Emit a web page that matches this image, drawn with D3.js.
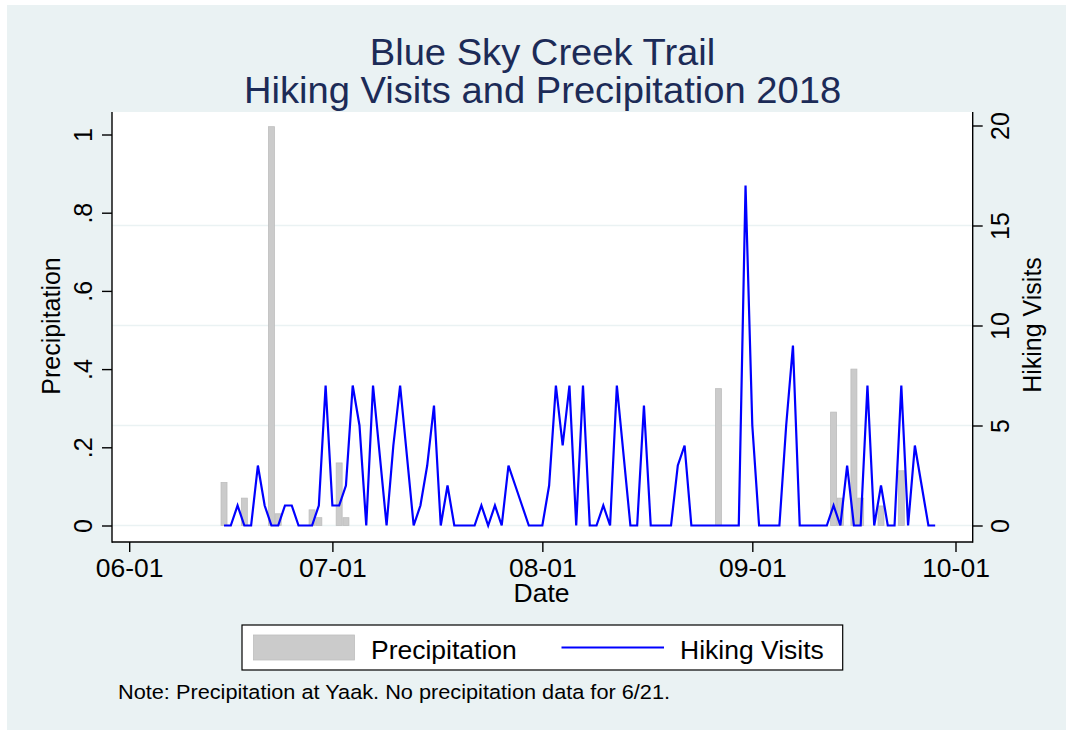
<!DOCTYPE html>
<meta charset="utf-8">
<style>
body { margin: 0; background: #fff; }
text { font-family: "Liberation Sans", Arial, sans-serif; fill: #000; }
.grid line { stroke: #eaf2f3; stroke-width: 1.6; }
.axis line { stroke: #000; stroke-width: 1.4; }
.axis path { display: none; }
</style>
<svg width="1071" height="732"></svg>
<script src="https://d3js.org/d3.v7.min.js"></script>
<script>

// daily hiking visits, 2018-06-15 .. 2018-09-28 (null = no count that day)
var firstDay = "2018-06-15", lastDay = "2018-09-28";
var visits = [
  0,0,1,0,0,3,1,0,0,1,1,0,0,0,1,7,                                   // Jun 15-30
  1,1,2,7,5,0,7,null,0,4,7,null,0,1,3,6,0,2,0,0,0,0,1,0,1,0,3,2,1,0,0, // Jul
  0,2,7,4,7,0,7,0,0,1,0,7,null,0,0,6,0,0,0,0,3,4,0,0,0,0,0,0,0,0,17,   // Aug
  5,0,0,0,0,5,9,0,0,0,0,0,1,0,3,0,0,7,0,2,0,0,7,0,4,2,0,0              // Sep 1-28
];

// precipitation at Yaak (days with rain only)
var precipDates = ["2018-06-15","2018-06-18","2018-06-22","2018-06-23","2018-06-28","2018-06-29",
                   "2018-07-02","2018-07-03","2018-08-27","2018-09-13","2018-09-14","2018-09-16",
                   "2018-09-17","2018-09-20","2018-09-23"];
var precip = [0.11,0.07,1.02,0.03,0.04,0.02,0.16,0.02,0.35,0.29,0.07,0.40,0.07,0.05,0.14];

var xTicks = ["2018-06-01","2018-07-01","2018-08-01","2018-09-01","2018-10-01"];
var precipTicks = [0, 0.2, 0.4, 0.6, 0.8, 1];
var precipTickLabels = ["0", ".2", ".4", ".6", ".8", "1"];
var visitTicks = [0, 5, 10, 15, 20];

var SX = 1.06; // the reference is slightly stretched sideways

var svg = d3.select("svg");
var parse = d3.utcParse("%Y-%m-%d");

var plot = {left: 112, right: 972.7, top: 112, bottom: 542};

var x = d3.scaleUtc()
    .domain([parse("2018-06-01"), parse("2018-10-01")])
    .range([129.2, 955.5]);
var yP = d3.scaleLinear().domain([0, 1]).range([525.5, 134.5]);
var yV = d3.scaleLinear().domain([0, 20]).range([525.5, 125.5]);
var dayW = x(parse("2018-06-02")) - x(parse("2018-06-01"));

// background
svg.append("rect").attr("x", 7).attr("y", 5).attr("width", 1059).attr("height", 725)
    .attr("fill", "#eaf2f3");
svg.append("rect").attr("x", plot.left).attr("y", plot.top)
    .attr("width", plot.right - plot.left).attr("height", plot.bottom - plot.top)
    .attr("fill", "#fff");

function stretched(sel, x0, y0, rot) {
  return sel.attr("transform", "translate(" + x0 + "," + y0 + ") scale(" + SX + ",1)" +
      (rot ? " rotate(" + rot + ")" : ""));
}

// gridlines from the right axis
svg.append("g").attr("class", "grid")
  .selectAll("line")
  .data(visitTicks.filter(function(d) { return d < 20; }))
  .enter().append("line")
    .attr("x1", plot.left).attr("x2", plot.right)
    .attr("y1", function(d) { return yV(d); })
    .attr("y2", function(d) { return yV(d); });

// precipitation bars
svg.append("g")
  .selectAll("rect")
  .data(precip)
  .enter().append("rect")
    .attr("x", function(d, i) { return x(parse(precipDates[i])) - dayW / 2 + 0.4; })
    .attr("width", dayW - 0.8)
    .attr("y", function(d) { return yP(d); })
    .attr("height", function(d) { return yP(0) - yP(d); })
    .attr("fill", "#cbcbcb")
    .attr("stroke", "#bdbdbd")
    .attr("stroke-width", 0.8);

// visits line (missing days are bridged)
var days = d3.utcDay.range(parse(firstDay), d3.utcDay.offset(parse(lastDay), 1));
var pts = days.map(function(d, i) { return {date: d, v: visits[i]}; })
    .filter(function(d) { return d.v != null; });

svg.append("path")
    .datum(pts)
    .attr("fill", "none")
    .attr("stroke", "#0000ff")
    .attr("stroke-width", 2.2)
    .attr("d", d3.line()
        .x(function(d) { return x(d.date); })
        .y(function(d) { return yV(d.v); }));

// axes
var gx = svg.append("g").attr("class", "axis")
    .attr("transform", "translate(0," + plot.bottom + ")")
    .call(d3.axisBottom(x)
        .tickValues(xTicks.map(parse))
        .tickFormat(d3.utcFormat("%m-%d"))
        .tickSize(10).tickSizeOuter(0));
gx.selectAll(".tick text")
    .attr("y", null).attr("dy", null)
    .style("font-size", "25px")
    .each(function() { stretched(d3.select(this), 0, 35); });

var gl = svg.append("g").attr("class", "axis")
    .attr("transform", "translate(" + plot.left + ",0)")
    .call(d3.axisLeft(yP)
        .tickValues(precipTicks)
        .tickFormat(function(d, i) { return precipTickLabels[i]; })
        .tickSize(10).tickSizeOuter(0));
gl.selectAll(".tick text")
    .attr("x", null).attr("dy", null)
    .attr("text-anchor", "middle")
    .style("font-size", "25px")
    .each(function() { stretched(d3.select(this), -20, 0, -90); });

var gr = svg.append("g").attr("class", "axis")
    .attr("transform", "translate(" + plot.right + ",0)")
    .call(d3.axisRight(yV)
        .tickValues(visitTicks)
        .tickSize(10).tickSizeOuter(0));
gr.selectAll(".tick text")
    .attr("x", null).attr("dy", null)
    .attr("text-anchor", "middle")
    .style("font-size", "25px")
    .each(function() { stretched(d3.select(this), 36, 0, -90); });

var frame = svg.append("g").attr("class", "axis");
frame.append("line").attr("x1", plot.left).attr("x2", plot.left)
    .attr("y1", plot.top).attr("y2", plot.bottom + 0.7);
frame.append("line").attr("x1", plot.right).attr("x2", plot.right)
    .attr("y1", plot.top).attr("y2", plot.bottom + 0.7);
frame.append("line").attr("x1", plot.left).attr("x2", plot.right)
    .attr("y1", plot.bottom).attr("y2", plot.bottom);

// axis titles
stretched(svg.append("text"), 541.5, 601.5)
    .attr("text-anchor", "middle").style("font-size", "25px").text("Date");
stretched(svg.append("text"), 60, 326, -90)
    .attr("text-anchor", "middle").style("font-size", "25px").text("Precipitation");
stretched(svg.append("text"), 1041, 325, -90)
    .attr("text-anchor", "middle").style("font-size", "25px").text("Hiking Visits");

// title
var titleLines = ["Blue Sky Creek Trail", "Hiking Visits and Precipitation 2018"];
titleLines.forEach(function(t, i) {
  stretched(svg.append("text"), 542.5, 65 + i * 38)
      .attr("text-anchor", "middle")
      .style("font-size", "36px")
      .style("fill", "#1c2b57")
      .text(t);
});

// legend
var lg = svg.append("g");
lg.append("rect").attr("x", 242).attr("y", 625).attr("width", 600.7).attr("height", 45)
    .attr("fill", "#fff").attr("stroke", "#000").attr("stroke-width", 1.2);
lg.append("rect").attr("x", 253.5).attr("y", 635).attr("width", 101).attr("height", 25)
    .attr("fill", "#cbcbcb").attr("stroke", "#bdbdbd").attr("stroke-width", 0.8);
stretched(lg.append("text"), 371, 658.5).style("font-size", "25px").text("Precipitation");
lg.append("line").attr("x1", 561.5).attr("x2", 664).attr("y1", 647.5).attr("y2", 647.5)
    .attr("stroke", "#0000ff").attr("stroke-width", 2.2);
stretched(lg.append("text"), 680, 658.5).style("font-size", "25px").text("Hiking Visits");

// note
stretched(svg.append("text"), 118, 699).style("font-size", "20.5px")
    .text("Note: Precipitation at Yaak. No precipitation data for 6/21.");

</script>
